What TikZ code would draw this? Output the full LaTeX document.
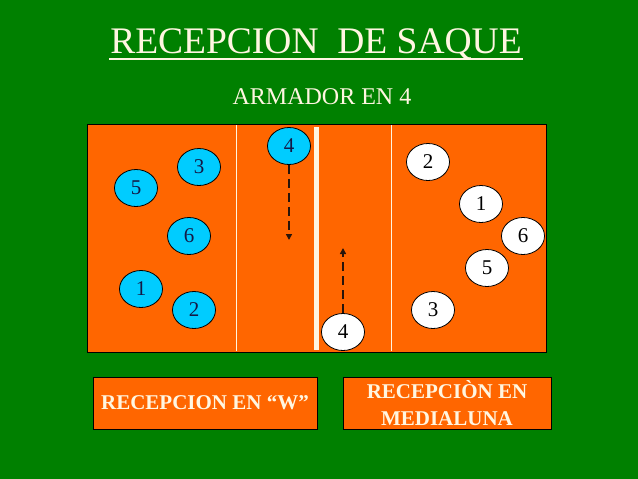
\documentclass[tikz,border=0pt]{standalone}
\usepackage{fontspec}
\setmainfont{Liberation Serif}
\usetikzlibrary{arrows.meta,shapes.geometric}
\definecolor{bggreen}{RGB}{0,128,0}
\definecolor{courtorange}{RGB}{255,102,0}
\definecolor{playerblue}{RGB}{0,204,255}
\definecolor{cream}{RGB}{255,246,225}
\definecolor{navytext}{RGB}{20,25,70}
\definecolor{arrowdark}{RGB}{40,20,10}
\tikzset{
  bplayer/.style={ellipse,draw=black,line width=0.8pt,fill=playerblue,minimum width=43pt,minimum height=37pt,inner sep=0pt,text=navytext,font=\fontsize{21}{22}\selectfont},
  wplayer/.style={ellipse,draw=black,line width=0.8pt,fill=white,minimum width=43pt,minimum height=37pt,inner sep=0pt,text=black,font=\fontsize{21}{22}\selectfont},
  moveline/.style={draw=arrowdark,line width=2.5pt,dash pattern=on 9pt off 5pt,-{Triangle[length=6pt,width=6pt]}},
  labelbox/.style={draw=black,line width=0.8pt,fill=courtorange,text=cream,font=\bfseries\fontsize{21}{27}\selectfont,align=center,inner sep=0pt}
}
\begin{document}
\begin{tikzpicture}[x=1pt,y=-1pt]
\fill[bggreen] (0,0) rectangle (638,479);
\useasboundingbox (0,0) rectangle (638,479);
% title
\node[text=cream,font=\fontsize{37.5}{40}\selectfont,inner sep=0pt] (title) at (316,44) {RECEPCION\ \ DE SAQUE};
\fill[cream] (109,58) rectangle (523,60);
\node[text=cream,font=\fontsize{24}{28}\selectfont,inner sep=0pt] (sub) at (322,97) {ARMADOR EN 4};
% court
\draw[fill=courtorange,draw=black,line width=0.8pt] (87,124) rectangle (546,352);
\draw[cream,line width=1pt] (236,125) -- (236,351);
\draw[cream,line width=1pt] (391,125) -- (391,351);
\fill[cream] (314,127) rectangle (318.5,350);
% blue players
\node[bplayer] (b4) at (289,146) {4};
\node[bplayer] (b3) at (199,167) {3};
\node[bplayer] (b5) at (136,188) {5};
\node[bplayer] (b6) at (189,236) {6};
\node[bplayer] (b1) at (141,289) {1};
\node[bplayer] (b2) at (194,310) {2};
% white players
\node[wplayer] (w2) at (428,162) {2};
\node[wplayer] (w1) at (481,204) {1};
\node[wplayer] (w6) at (523,236) {6};
\node[wplayer] (w5) at (487,268) {5};
\node[wplayer] (w3) at (433,310) {3};
\node[wplayer] (w4) at (343,332) {4};
% movements
\coordinate (b4end) at (289,240);
\coordinate (w4end) at (343,248);
\draw[moveline] (b4.south) -- (b4end);
\draw[moveline] (w4.north) -- (w4end);
% label boxes
\node[labelbox,minimum width=224pt,minimum height=52pt] (boxw) at (205,403) {RECEPCION EN “W”};
\node[labelbox,minimum width=208pt,minimum height=52pt] (boxm) at (447,403) {RECEPCIÒN EN\\MEDIALUNA};
\end{tikzpicture}
\end{document}
